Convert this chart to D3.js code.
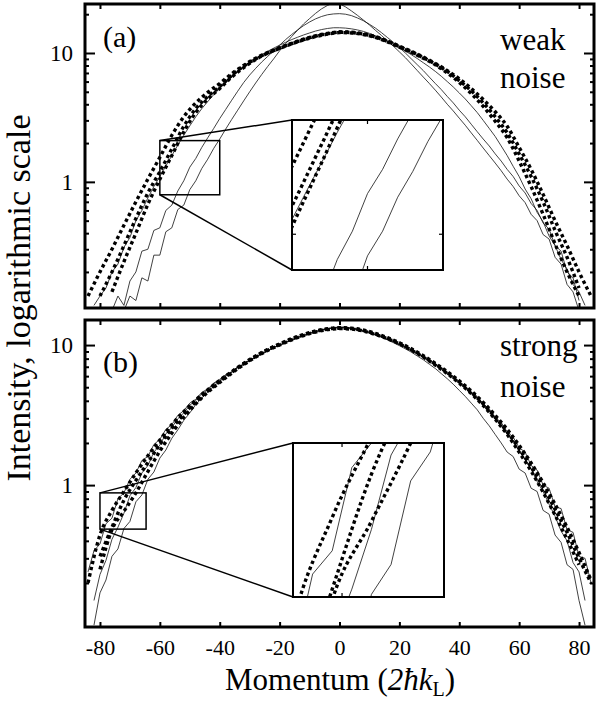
<!DOCTYPE html>
<html lang="en">
<head>
<meta charset="UTF-8" />
<title>Momentum distributions, weak and strong noise</title>
<script src="https://cdnjs.cloudflare.com/ajax/libs/d3/7.8.5/d3.min.js"></script>
<style>
  body { margin: 0; background: #fff; }
  svg text { font-family: "Liberation Serif", "DejaVu Serif", serif; fill: #000; }
</style>
</head>
<body>
<div id="chart"></div>
<script>
// momentum grids (units of 2 hbar k_L)
var momentumFine = [-84,-82,-80,-78,-76,-74,-72,-70,-68,-66,-64,-62,-60,-58,-56,-54,-52,-50,-48,-46,-44,-42,-40,-38,-36,-34,-32,-30,-28,-26,-24,-22,-20,-18,-16,-14,-12,-10,-8,-6,-4,-2,0,2,4,6,8,10,12,14,16,18,20,22,24,26,28,30,32,34,36,38,40,42,44,46,48,50,52,54,56,58,60,62,64,66,68,70,72,74,76,78,80,82,84];
var momentumCoarse = [-84,-80,-76,-72,-68,-64,-60,-56,-52,-48,-44,-40,-36,-32,-28,-24,-20,-16,-12,-8,-4,0,4,8,12,16,20,24,28,32,36,40,44,48,52,56,60,64,68,72,76,80,84];

// (a) weak noise - solid (measured) curves on the fine grid
var weakSolid1 = [null,null,null,null,null,null,0.1,0.13,0.12,0.18,0.17,0.27,0.27,0.41,0.44,0.61,0.66,0.87,1.02,1.27,1.5,1.82,2.15,2.57,3.05,3.6,4.25,5.0,5.85,6.8,7.85,9.0,10.4,11.8,13.4,15.0,16.8,18.5,20.3,22.0,23.4,24.5,24.1,22.8,21.2,19.6,18.0,16.5,15.0,13.7,12.4,11.3,10.2,9.2,8.2,7.3,6.5,5.8,5.15,4.55,4.0,3.55,3.12,2.75,2.4,2.1,1.83,1.6,1.4,1.22,1.05,0.92,0.78,0.69,0.56,0.5,0.39,0.36,0.26,0.23,0.16,0.14,0.1,null,null];
var weakSolid2 = [null,null,null,null,0.1,0.13,0.11,0.17,0.2,0.29,0.3,0.42,0.44,0.6,0.66,0.85,1.02,1.3,1.52,1.85,2.2,2.6,3.1,3.65,4.3,5.05,5.9,6.75,7.6,8.5,9.4,10.4,11.5,12.7,13.9,15.1,16.3,17.4,18.4,19.2,19.8,20.1,20.2,20.0,19.5,18.7,17.8,16.7,15.6,14.4,13.2,12.1,11.0,10.0,9.0,8.1,7.3,6.5,5.8,5.2,4.6,4.1,3.6,3.2,2.8,2.45,2.15,1.9,1.65,1.45,1.25,1.1,0.93,0.82,0.68,0.6,0.48,0.43,0.32,0.29,0.2,0.18,0.12,null,null];
var weakSolid3 = [null,0.11,0.13,0.15,0.2,0.23,0.31,0.37,0.5,0.6,0.75,0.92,1.1,1.33,1.6,1.93,2.3,2.72,3.2,3.7,4.2,4.75,5.3,5.9,6.5,7.15,7.8,8.4,9.0,9.65,10.3,10.9,11.5,12.1,12.7,13.25,13.8,14.3,14.8,15.2,15.5,15.7,15.7,15.6,15.4,15.1,14.7,14.2,13.6,13.0,12.3,11.7,11.0,10.35,9.7,9.05,8.4,7.8,7.2,6.6,6.0,5.45,4.9,4.4,3.9,3.45,3.0,2.6,2.25,1.9,1.6,1.32,1.1,0.88,0.74,0.58,0.49,0.38,0.32,0.25,0.21,0.16,0.14,0.11,null];

// (a) weak noise - dotted (simulated) curves on the coarse grid
var weakDotted1 = [0.13,0.2,0.3,0.46,0.7,1.05,1.55,2.3,3.2,4.1,4.95,5.8,6.9,8.0,9.1,10.1,11.0,11.9,12.8,13.6,14.2,14.6,14.5,14.1,13.4,12.4,11.3,10.3,9.3,8.3,7.3,6.3,5.3,4.35,3.5,2.7,1.85,1.25,0.8,0.5,0.32,0.2,0.13];
var weakDotted2 = [null,0.13,0.2,0.32,0.52,0.82,1.2,1.8,2.7,3.7,4.6,5.5,6.7,7.9,9.0,10.0,10.9,11.8,12.7,13.5,14.1,14.5,14.4,14.0,13.3,12.3,11.2,10.2,9.2,8.2,7.2,6.1,5.1,4.1,3.2,2.4,1.65,1.1,0.7,0.42,0.26,0.15,null];
var weakDotted3 = [null,null,0.14,0.24,0.4,0.67,1.05,1.6,2.45,3.45,4.4,5.3,6.5,7.7,8.9,9.95,10.85,11.75,12.65,13.4,14.0,14.4,14.3,13.9,13.2,12.2,11.1,10.1,9.1,8.1,7.0,5.9,4.85,3.85,2.95,2.2,1.45,0.92,0.56,0.33,0.2,0.13,null];

// (b) strong noise - solid curves
var strongSolid1 = [0.24,0.34,0.38,0.53,0.58,0.8,0.88,1.1,1.22,1.5,1.6,1.95,2.12,2.5,2.7,3.15,3.4,3.85,4.1,4.6,4.85,5.35,5.7,6.15,6.45,7.0,7.3,7.85,8.2,8.75,9.1,9.65,10.0,10.5,10.9,11.4,11.7,12.2,12.5,12.9,13.0,13.4,13.3,13.4,13.1,13.0,12.6,12.4,11.9,11.6,11.0,10.7,10.1,9.75,9.15,8.85,8.2,7.9,7.3,6.95,6.35,6.0,5.45,5.1,4.6,4.3,3.8,3.5,3.05,2.8,2.4,2.2,1.85,1.72,1.38,1.28,1.0,0.95,0.7,0.68,0.48,0.46,0.31,0.3,0.2];
var strongSolid2 = [null,0.15,0.23,0.29,0.41,0.5,0.63,0.84,0.96,1.22,1.38,1.72,1.93,2.32,2.58,2.98,3.28,3.72,4.02,4.5,4.78,5.3,5.58,6.1,6.4,6.95,7.25,7.8,8.15,8.7,9.05,9.6,9.95,10.45,10.8,11.3,11.6,12.1,12.4,12.8,12.95,13.3,13.2,13.3,13.0,12.9,12.5,12.3,11.8,11.5,10.9,10.6,10.0,9.65,9.05,8.75,8.1,7.8,7.2,6.85,6.25,5.9,5.35,5.0,4.5,4.2,3.7,3.4,2.95,2.7,2.3,2.1,1.75,1.52,1.3,1.06,0.9,0.73,0.6,0.47,0.4,0.28,0.24,0.15,null];
var strongSolid3 = [null,0.1,0.17,0.21,0.31,0.35,0.49,0.55,0.76,0.85,1.1,1.24,1.56,1.78,2.16,2.48,2.9,3.28,3.76,4.18,4.62,5.1,5.5,6.0,6.4,6.9,7.3,7.8,8.2,8.7,9.1,9.6,10.0,10.45,10.9,11.3,11.7,12.1,12.5,12.8,13.1,13.3,13.5,13.4,13.3,13.0,12.7,12.3,11.9,11.4,10.95,10.4,9.9,9.4,8.9,8.35,7.85,7.3,6.8,6.25,5.75,5.25,4.75,4.3,3.85,3.45,3.0,2.65,2.3,2.0,1.72,1.6,1.3,1.22,0.95,0.9,0.66,0.62,0.44,0.39,0.27,0.25,0.15,0.1,null];

// (b) strong noise - dotted curves
var strongDotted1 = [0.2,0.44,0.66,0.9,1.22,1.62,2.1,2.7,3.35,4.05,4.8,5.6,6.45,7.4,8.35,9.3,10.2,11.1,11.9,12.6,13.1,13.3,13.2,12.8,12.1,11.3,10.4,9.4,8.4,7.4,6.45,5.55,4.7,3.9,3.15,2.5,1.92,1.44,1.04,0.73,0.5,0.33,0.21];
var strongDotted2 = [null,0.31,0.5,0.78,1.08,1.45,1.95,2.55,3.2,3.95,4.7,5.5,6.4,7.35,8.3,9.25,10.1,11.0,11.8,12.5,13.0,13.2,13.1,12.7,12.0,11.2,10.3,9.3,8.3,7.3,6.35,5.45,4.6,3.8,3.05,2.4,1.82,1.35,0.97,0.67,0.46,0.3,0.2];
var strongDotted3 = [null,0.25,0.48,0.65,0.88,1.25,1.75,2.35,3.05,3.8,4.6,5.4,6.3,7.25,8.2,9.15,10.0,10.9,11.7,12.4,12.9,13.1,13.0,12.6,11.9,11.1,10.2,9.2,8.2,7.2,6.25,5.35,4.5,3.7,2.95,2.3,1.72,1.26,0.89,0.61,0.41,0.27,null];

var xTicks = [-80, -60, -40, -20, 0, 20, 40, 60, 80];
var yMajorTicks = [1, 10];
var yMinorTicks = [0.2, 0.3, 0.4, 0.5, 0.6, 0.7, 0.8, 0.9, 2, 3, 4, 5, 6, 7, 8, 9, 20];

var serif = '"Liberation Serif", "DejaVu Serif", serif';
var width = 611, height = 704;
var svg = d3.select('#chart').append('svg')
    .attr('width', width)
    .attr('height', height)
    .attr('font-family', serif);

var xScale = d3.scaleLinear().domain([-85, 85]).range([85, 594]);

function pts(xs, vs) {
    return xs.map(function (m, i) { return { m: m, v: vs[i] }; });
}

var panels = [
    {
        id: 'a', top: 4, bottom: 308, yDomain: [0.105, 24], label: '(a)', labelY: 47,
        words: ['weak', 'noise'], wordsY: [50, 88], tickLabels: false,
        solid: [weakSolid1, weakSolid2, weakSolid3],
        dotted: [weakDotted1, weakDotted2, weakDotted3],
        inset: { xDomain: [-60, -40], yDomain: [0.794, 2.09], x0: 292, x1: 443, y0: 120, y1: 270, xt: [-50], yt: [1] }
    },
    {
        id: 'b', top: 320, bottom: 627, yDomain: [0.097, 15.1], label: '(b)', labelY: 372,
        words: ['strong', 'noise'], wordsY: [356, 397], tickLabels: true,
        solid: [strongSolid1, strongSolid2, strongSolid3],
        dotted: [strongDotted1, strongDotted2, strongDotted3],
        inset: { xDomain: [-80, -64.6], yDomain: [0.485, 0.88], x0: 293, x1: 444, y0: 443, y1: 597, xt: [-75], yt: [] }
    }
];

function drawCurves(g, p, xs, ys) {
    var line = d3.line()
        .defined(function (d) { return d.v != null; })
        .x(function (d) { return xs(d.m); })
        .y(function (d) { return ys(d.v); });
    var smooth = d3.line()
        .defined(function (d) { return d.v != null; })
        .curve(d3.curveMonotoneX)
        .x(function (d) { return xs(d.m); })
        .y(function (d) { return ys(d.v); });

    p.solid.forEach(function (s) {
        g.append('path')
            .attr('d', line(pts(momentumFine, s)))
            .attr('fill', 'none')
            .attr('stroke', '#111')
            .attr('stroke-width', 0.8);
    });
    p.dotted.forEach(function (s) {
        g.append('path')
            .attr('d', smooth(pts(momentumCoarse, s)))
            .attr('fill', 'none')
            .attr('stroke', '#000')
            .attr('stroke-width', 3.4)
            .attr('stroke-dasharray', '3.4,3');
    });
}

panels.forEach(function (p) {
    var yScale = d3.scaleLog().domain(p.yDomain).range([p.bottom, p.top]);
    var x0 = xScale.range()[0], x1 = xScale.range()[1];

    svg.append('clipPath').attr('id', 'clip-' + p.id)
        .append('rect')
        .attr('x', x0).attr('y', p.top)
        .attr('width', x1 - x0).attr('height', p.bottom - p.top);

    var plot = svg.append('g').attr('clip-path', 'url(#clip-' + p.id + ')');
    drawCurves(plot, p, xScale, yScale);

    // magnified region
    var ins = p.inset;
    var bx0 = xScale(ins.xDomain[0]), bx1 = xScale(ins.xDomain[1]);
    var by0 = yScale(ins.yDomain[1]), by1 = yScale(ins.yDomain[0]);

    svg.append('line').attr('x1', bx0).attr('y1', by0).attr('x2', ins.x0).attr('y2', ins.y0)
        .attr('stroke', '#000').attr('stroke-width', 1.5);
    svg.append('line').attr('x1', bx0).attr('y1', by1).attr('x2', ins.x0).attr('y2', ins.y1)
        .attr('stroke', '#000').attr('stroke-width', 1.5);
    svg.append('rect')
        .attr('x', bx0).attr('y', by0)
        .attr('width', bx1 - bx0).attr('height', by1 - by0)
        .attr('fill', 'none').attr('stroke', '#000').attr('stroke-width', 1.5);

    var xi = d3.scaleLinear().domain(ins.xDomain).range([ins.x0, ins.x1]);
    var yi = d3.scaleLog().domain(ins.yDomain).range([ins.y1, ins.y0]);
    svg.append('rect')
        .attr('x', ins.x0).attr('y', ins.y0)
        .attr('width', ins.x1 - ins.x0).attr('height', ins.y1 - ins.y0)
        .attr('fill', '#fff');
    svg.append('clipPath').attr('id', 'clip-inset-' + p.id)
        .append('rect')
        .attr('x', ins.x0).attr('y', ins.y0)
        .attr('width', ins.x1 - ins.x0).attr('height', ins.y1 - ins.y0);
    var insG = svg.append('g').attr('clip-path', 'url(#clip-inset-' + p.id + ')');
    drawCurves(insG, p, xi, yi);

    ins.xt.forEach(function (t) {
        [[ins.y0, ins.y0 + 4], [ins.y1, ins.y1 - 4]].forEach(function (yy) {
            svg.append('line').attr('x1', xi(t)).attr('x2', xi(t)).attr('y1', yy[0]).attr('y2', yy[1])
                .attr('stroke', '#000').attr('stroke-width', 1.2);
        });
    });
    ins.yt.forEach(function (t) {
        [[ins.x0, ins.x0 + 4], [ins.x1, ins.x1 - 4]].forEach(function (xx) {
            svg.append('line').attr('y1', yi(t)).attr('y2', yi(t)).attr('x1', xx[0]).attr('x2', xx[1])
                .attr('stroke', '#000').attr('stroke-width', 1.2);
        });
    });
    svg.append('rect')
        .attr('x', ins.x0).attr('y', ins.y0)
        .attr('width', ins.x1 - ins.x0).attr('height', ins.y1 - ins.y0)
        .attr('fill', 'none').attr('stroke', '#000').attr('stroke-width', 2);

    // axes, ticks pointing inwards
    function styleAxis(sel, size) {
        sel.select('.domain').remove();
        sel.selectAll('.tick line').attr('stroke', '#000').attr('stroke-width', 2);
        sel.attr('font-family', serif).attr('font-size', size);
    }
    var minor = yMinorTicks.filter(function (t) { return t > p.yDomain[0] && t < p.yDomain[1]; });

    svg.append('g').attr('transform', 'translate(0,' + p.bottom + ')')
        .call(d3.axisBottom(xScale).tickValues(xTicks).tickSize(-5).tickPadding(12)
            .tickFormat(function (d) { return p.tickLabels ? String(d) : ''; }))
        .call(styleAxis, 22);
    svg.append('g').attr('transform', 'translate(0,' + p.top + ')')
        .call(d3.axisTop(xScale).tickValues(xTicks).tickSize(-5).tickFormat(''))
        .call(styleAxis, 22);

    svg.append('g').attr('transform', 'translate(' + x0 + ',0)')
        .call(d3.axisLeft(yScale).tickValues(yMajorTicks).tickSize(-10).tickPadding(12)
            .tickFormat(function (d) { return String(d); }))
        .call(styleAxis, 23);
    svg.append('g').attr('transform', 'translate(' + x0 + ',0)')
        .call(d3.axisLeft(yScale).tickValues(minor).tickSize(-4).tickFormat(''))
        .call(styleAxis, 23);
    svg.append('g').attr('transform', 'translate(' + x1 + ',0)')
        .call(d3.axisRight(yScale).tickValues(yMajorTicks).tickSize(-10).tickFormat(''))
        .call(styleAxis, 23);
    svg.append('g').attr('transform', 'translate(' + x1 + ',0)')
        .call(d3.axisRight(yScale).tickValues(minor).tickSize(-4).tickFormat(''))
        .call(styleAxis, 23);

    svg.append('rect')
        .attr('x', x0).attr('y', p.top)
        .attr('width', x1 - x0).attr('height', p.bottom - p.top)
        .attr('fill', 'none').attr('stroke', '#000').attr('stroke-width', 3);

    svg.append('text')
        .attr('x', 103).attr('y', p.labelY)
        .attr('font-size', 30)
        .text(p.label);
    p.words.forEach(function (w, i) {
        svg.append('text')
            .attr('x', 500).attr('y', p.wordsY[i])
            .attr('font-size', 31)
            .text(w);
    });
});

// axis titles
var xTitle = svg.append('text')
    .attr('x', 340).attr('y', 690)
    .attr('text-anchor', 'middle')
    .attr('font-size', 31);
xTitle.append('tspan').text('Momentum (');
xTitle.append('tspan').attr('font-style', 'italic').text('2ħk');
xTitle.append('tspan').attr('font-size', 20).attr('dy', 6).text('L');
xTitle.append('tspan').attr('dy', -6).text(')');

svg.append('text')
    .attr('transform', 'translate(30,298) rotate(-90)')
    .attr('text-anchor', 'middle')
    .attr('font-size', 34)
    .text('Intensity, logarithmic scale');
</script>
</body>
</html>
